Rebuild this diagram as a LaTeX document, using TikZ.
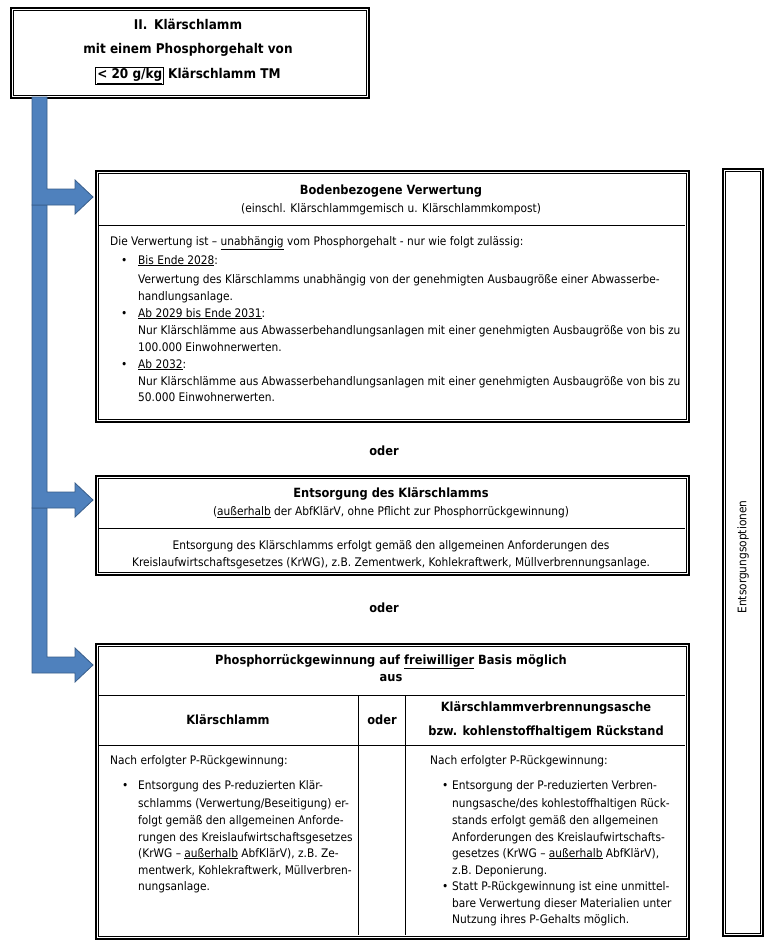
\documentclass[tikz,border=0pt]{standalone}
\usepackage{fontspec}
\setmainfont{DejaVu Sans}[FakeStretch=0.9]
\usetikzlibrary{calc}
\definecolor{arrfill}{HTML}{4F81BD}
\definecolor{arrline}{HTML}{385D8A}
\newcommand\uln[1]{\underline{#1}}
\tikzset{
  body/.style={anchor=base west, inner sep=0pt, font=\fontsize{11.8}{14}\selectfont},
  cbody/.style={anchor=base, inner sep=0pt, font=\fontsize{11.8}{14}\selectfont},
  hbold/.style={anchor=base, inner sep=0pt, font=\fontsize{12.7}{14}\selectfont\bfseries},
  tbold/.style={anchor=base, inner sep=0pt, font=\fontsize{13.4}{15}\selectfont\bfseries},
  obox/.style={draw, line width=2pt, anchor=north west, inner sep=0pt, fill=white},
  ibox/.style={line width=0.9pt},
  bluearrow/.style={fill=arrfill, draw=arrline, line width=0.8pt, line join=miter},
}
\newcommand\dbox[5]{%
  \node[obox, minimum width=#4, minimum height=#5] (#1) at (#2,#3) {};
  \draw[ibox] ($(#1.north west)+(3.5,3.5)$) rectangle ($(#1.south east)+(-3.5,-3.5)$);}
\begin{document}
\begin{tikzpicture}[x=1pt,y=-1pt]
\useasboundingbox (0,0) rectangle (767,942);
\fill[white] (0,0) rectangle (767,942);

% boxes
\dbox{top}{10}{7}{358}{90}
\dbox{b1}{95}{170}{593}{251}
\dbox{b2}{95}{475}{593}{99}
\dbox{b3}{95}{643}{593}{295}
\dbox{opt}{722}{168}{40}{767}

% blue bent arrows
\draw[bluearrow] (32,508) -- (32,673) -- (75,673) -- (75,682) -- (93,665) -- (75,648) -- (75,657) -- (47,657) -- (47,508) -- cycle;
\draw[bluearrow] (32,205) -- (32,508) -- (75,508) -- (75,517) -- (93,500) -- (75,483) -- (75,492) -- (47,492) -- (47,205) -- cycle;
\draw[bluearrow] (32,97) -- (32,205) -- (75,205) -- (75,214) -- (93,197) -- (75,180) -- (75,189) -- (47,189) -- (47,97) -- cycle;

% dividers
\draw[ibox] (98.5,225) -- (684.5,225);
\draw[ibox] (98.5,528) -- (684.5,528);
\draw[ibox] (98.5,695) -- (684.5,695);
\draw[ibox] (98.5,745) -- (684.5,745);
\draw[ibox] (358,695) -- (358,934.5);
\draw[ibox] (405,695) -- (405,934.5);

% top box text
\node[tbold] (t1) at (188,29.5) {II.\enspace Klärschlamm};
\node[tbold] (t2) at (188,53.5) {mit einem Phosphorgehalt von};
\node[tbold] (t3) at (188,78.5) {{\setlength\fboxsep{1pt}\setlength\fboxrule{0.8pt}\fbox{\uln{< 20 g/kg}}} Klärschlamm TM};

% box 1
\node[hbold] (b1t) at (391,194.5) {Bodenbezogene Verwertung};
\node[cbody] (b1s) at (391,212.5) {(einschl. Klärschlammgemisch u. Klärschlammkompost)};
\node[body] (b1l0) at (110,245) {Die Verwertung ist – \uln{unabhängig} vom Phosphorgehalt - nur wie folgt zulässig:};
\node[body] (b1p1) at (121,264) {•};
\node[body] (b1l1) at (138,264) {\uln{Bis Ende 2028}:};
\node[body] (b1l2) at (138,283) {Verwertung des Klärschlamms unabhängig von der genehmigten Ausbaugröße einer Abwasserbe-};
\node[body] (b1l3) at (138,300) {handlungsanlage.};
\node[body] (b1p2) at (121,317) {•};
\node[body] (b1l4) at (138,317) {\uln{Ab 2029 bis Ende 2031}:};
\node[body] (b1l5) at (138,334) {Nur Klärschlämme aus Abwasserbehandlungsanlagen mit einer genehmigten Ausbaugröße von bis zu};
\node[body] (b1l6) at (138,351) {100.000 Einwohnerwerten.};
\node[body] (b1p3) at (121,368) {•};
\node[body] (b1l7) at (138,368) {\uln{Ab 2032}:};
\node[body] (b1l8) at (138,385) {Nur Klärschlämme aus Abwasserbehandlungsanlagen mit einer genehmigten Ausbaugröße von bis zu};
\node[body] (b1l9) at (138,401) {50.000 Einwohnerwerten.};

\node[hbold] (oder1) at (384,455) {oder};

% box 2
\node[hbold] (b2t) at (391,497.5) {Entsorgung des Klärschlamms};
\node[cbody] (b2s) at (391,515.5) {(\uln{außerhalb} der AbfKlärV, ohne Pflicht zur Phosphorrückgewinnung)};
\node[cbody] (b2l1) at (391,549) {Entsorgung des Klärschlamms erfolgt gemäß den allgemeinen Anforderungen des};
\node[cbody] (b2l2) at (391,566) {Kreislaufwirtschaftsgesetzes (KrWG), z.B. Zementwerk, Kohlekraftwerk, Müllverbrennungsanlage.};

\node[hbold] (oder2) at (384,612) {oder};

% box 3
\node[hbold] (b3t) at (391,664.5) {Phosphorrückgewinnung auf \uln{freiwilliger} Basis möglich};
\node[hbold] (b3a) at (391,681.5) {aus};
\node[hbold] (h1) at (228,724.5) {Klärschlamm};
\node[hbold] (h2) at (382,724.5) {oder};
\node[hbold] (h3a) at (546,711.5) {Klärschlammverbrennungsasche};
\node[hbold] (h3b) at (546,735.5) {bzw. kohlenstoffhaltigem Rückstand};

\node[body] (l0) at (110,764) {Nach erfolgter P-Rückgewinnung:};
\node[body] (lp) at (122,789) {•};
\node[body] (l1) at (138,789) {Entsorgung des P-reduzierten Klär-};
\node[body] (l2) at (138,807) {schlamms (Verwertung/Beseitigung) er-};
\node[body] (l3) at (138,824) {folgt gemäß den allgemeinen Anforde-};
\node[body] (l4) at (138,841) {rungen des Kreislaufwirtschaftsgesetzes};
\node[body] (l5) at (138,857) {(KrWG – \uln{außerhalb} AbfKlärV), z.B. Ze-};
\node[body] (l6) at (138,874) {mentwerk, Kohlekraftwerk, Müllverbren-};
\node[body] (l7) at (138,890) {nungsanlage.};

\node[body] (r0) at (430,764) {Nach erfolgter P-Rückgewinnung:};
\node[body] (rp1) at (442,789) {•};
\node[body] (r1) at (452,789) {Entsorgung der P-reduzierten Verbren-};
\node[body] (r2) at (452,807) {nungsasche/des kohlestoffhaltigen Rück-};
\node[body] (r3) at (452,824) {stands erfolgt gemäß den allgemeinen};
\node[body] (r4) at (452,841) {Anforderungen des Kreislaufwirtschafts-};
\node[body] (r5) at (452,857) {gesetzes (KrWG – \uln{außerhalb} AbfKlärV),};
\node[body] (r6) at (452,874) {z.B. Deponierung.};
\node[body] (rp2) at (442,890) {•};
\node[body] (r7) at (452,890) {Statt P-Rückgewinnung ist eine unmittel-};
\node[body] (r8) at (452,907) {bare Verwertung dieser Materialien unter};
\node[body] (r9) at (452,923) {Nutzung ihres P-Gehalts möglich.};

% side label
\node[rotate=90, inner sep=0pt, font=\fontsize{11.8}{14}\selectfont] (optl) at (743,557) {Entsorgungsoptionen};
\end{tikzpicture}
\end{document}
